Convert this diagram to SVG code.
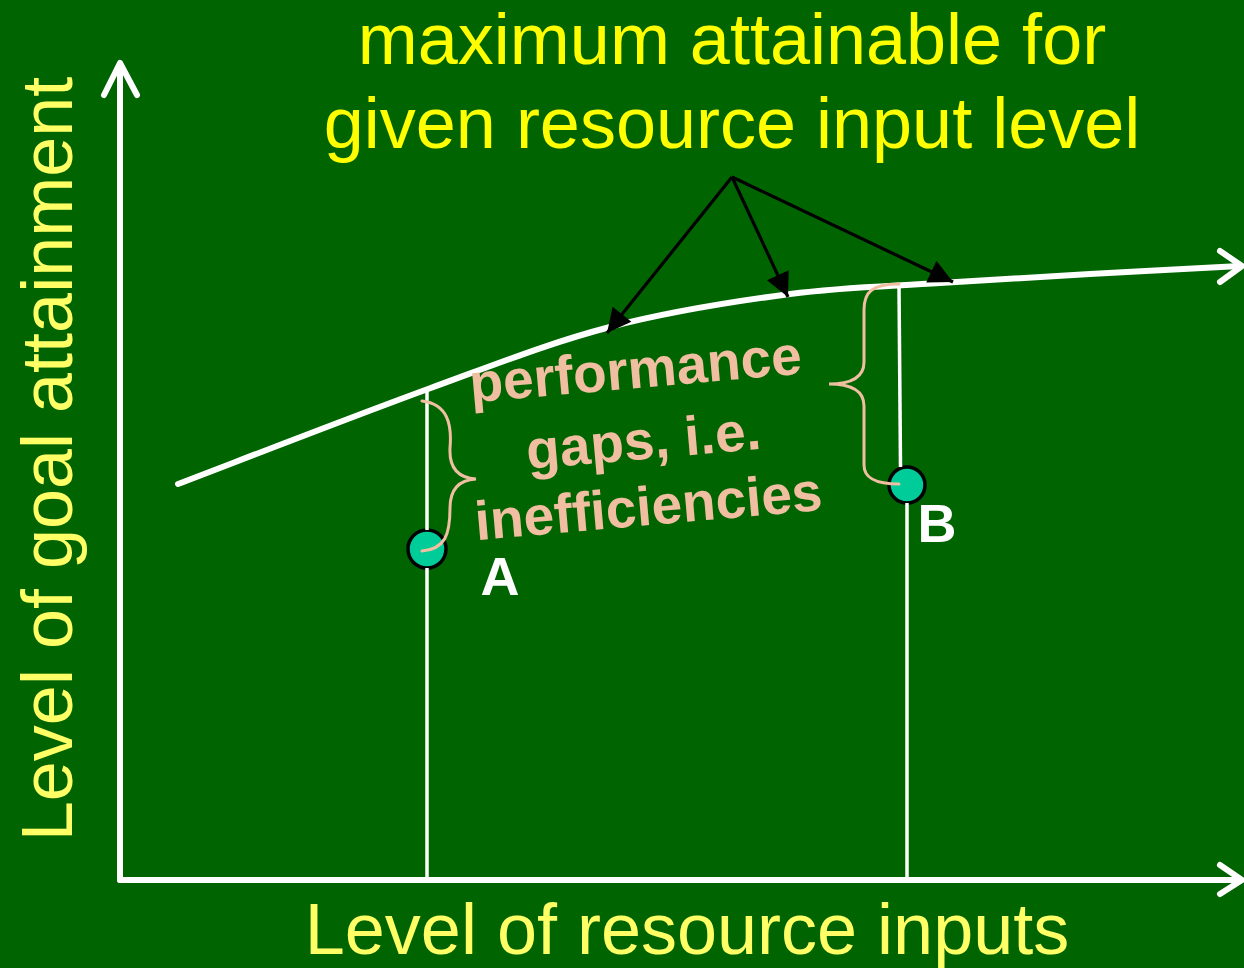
<svg xmlns="http://www.w3.org/2000/svg" width="1244" height="968" viewBox="0 0 1244 968">
  <style>
    .axis { stroke: #FFFFFF; stroke-width: 6; fill: none; stroke-linecap: round; stroke-linejoin: round; }
    .drop { stroke: #FFFFFF; stroke-width: 3.5; fill: none; }
    .brace { stroke: #F0BEA0; stroke-width: 3; fill: none; stroke-linecap: round; }
    .ptr { stroke: #000000; stroke-width: 3.2; fill: none; }
    .pt { fill: #00CC99; stroke: #000000; stroke-width: 3.5; }
    .title { font-family: "Liberation Sans", Arial, sans-serif; font-size: 72px; fill: #FFFF00; text-anchor: middle; }
    .axlabel { font-family: "Liberation Sans", Arial, sans-serif; font-size: 72px; fill: #FFFF66; text-anchor: middle; }
    .gap { font-family: "Liberation Sans", Arial, sans-serif; font-size: 55px; font-weight: bold; fill: #F0BEA0; text-anchor: middle; }
    .ptlabel { font-family: "Liberation Sans", Arial, sans-serif; font-size: 54px; font-weight: bold; fill: #FFFFFF; text-anchor: middle; }
  </style>
  <defs>
    <marker id="tri" viewBox="0 0 10 10" refX="10" refY="5" markerWidth="8" markerHeight="7.5" orient="auto" markerUnits="strokeWidth">
      <path d="M0,0 L10,5 L0,10 z" fill="#000000"/>
    </marker>
  </defs>
  <rect width="1244" height="968" fill="#006400"/>

  <g id="axes">
    <path class="axis" d="M120,880 L120,64"/>
    <polyline class="axis" points="104,95 120,63 137,95"/>
    <path class="axis" d="M120,880 L1240,880"/>
    <polyline class="axis" points="1220,865 1242,880 1220,894"/>
  </g>

  <g id="frontier">
    <path class="axis" d="M178,484 C219.7,468.2 356,415.2 428,389 C500,362.8 549.7,342.8 610,327 C670.3,311.2 735,301.3 790,294 C845,286.7 890,286.3 940,283 C990,279.7 1040,276.8 1090,274 C1140,271.2 1215,267.3 1240,266"/>
    <polyline class="axis" points="1220,251 1242,266 1220,282"/>
  </g>

  <g id="point-A">
    <circle class="pt" cx="427" cy="549" r="19"/>
    <text class="ptlabel" x="500" y="595">A</text>
  </g>

  <g id="point-B">
    <circle class="pt" cx="907" cy="485" r="18"/>
    <text class="ptlabel" x="937" y="542">B</text>
  </g>

  <g id="connectors">
    <line class="drop" x1="427" y1="390" x2="427" y2="530"/>
    <line class="drop" x1="427" y1="568" x2="427" y2="880"/>
    <line class="drop" x1="899" y1="286" x2="900.5" y2="467"/>
    <line class="drop" x1="907" y1="503" x2="907" y2="880"/>
    <line class="ptr" x1="732" y1="177" x2="607" y2="333" marker-end="url(#tri)"/>
    <line class="ptr" x1="732" y1="177" x2="788" y2="297" marker-end="url(#tri)"/>
    <line class="ptr" x1="732" y1="177" x2="953" y2="282" marker-end="url(#tri)"/>
    <path class="brace" d="M422,401 C448,404 452,425 450,448 C449,468 458,478 476,479 C458,480 450,490 450,508 C450,535 445,549 422,551"/>
    <path class="brace" d="M899,284 C872,284 864,292 864,310 L864,362 C864,378 850,384 829,384 C850,384 864,390 864,406 L864,465 C864,478 875,484 899,484"/>
  </g>

  <g id="title">
    <text class="title" x="732" y="64">maximum attainable for</text>
    <text class="title" x="732" y="148">given resource input level</text>
  </g>

  <g id="y-label">
    <text class="axlabel" transform="translate(72,459) rotate(-90)">Level of goal attainment</text>
  </g>

  <g id="x-label">
    <text class="axlabel" x="687" y="954">Level of resource inputs</text>
  </g>

  <g id="gap-label">
    <text class="gap" transform="translate(637,388) rotate(-5)">performance</text>
    <text class="gap" transform="translate(645,459) rotate(-5)">gaps, i.e.</text>
    <text class="gap" transform="translate(650,525) rotate(-5)">inefficiencies</text>
  </g>
</svg>
